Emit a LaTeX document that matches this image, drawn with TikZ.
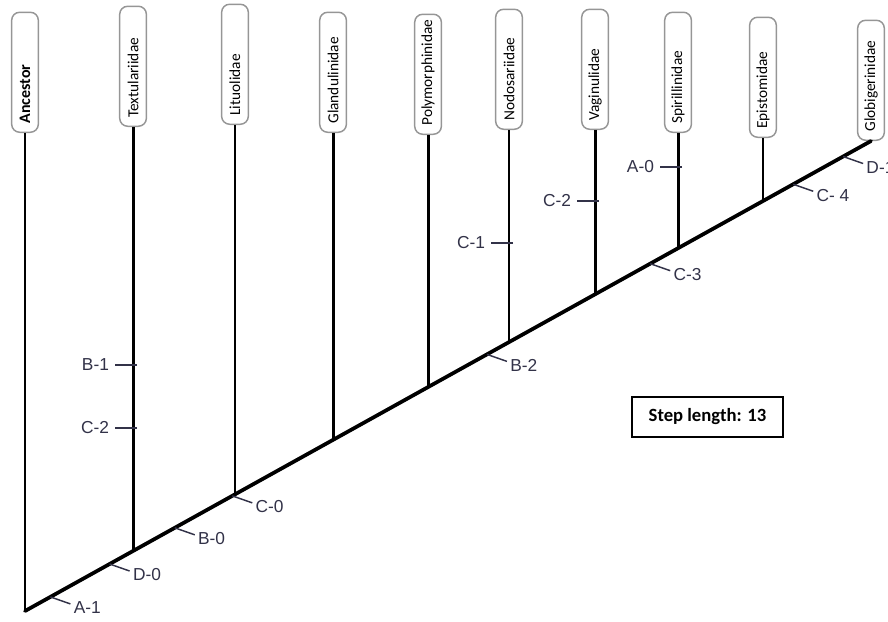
\documentclass[tikz,border=0pt]{standalone}
\usepackage{fontspec}
\setmainfont{Liberation Sans}
\newfontfamily\taxfont{Carlito}
\usetikzlibrary{calc,positioning}

\definecolor{marktext}{RGB}{50,50,72}
\definecolor{boxline}{RGB}{150,150,150}

\tikzset{
  taxon/.style={draw=boxline, line width=1.1pt, rounded corners=6pt, rotate=90, anchor=west,
    minimum height=20pt, inner xsep=6.5pt, text width=77pt, align=left,
    font=\taxfont\fontsize{11.5}{13}\selectfont},
  branch/.style={line width=2.2pt},
  stem/.style={line width=2.8pt, line cap=round},
  tick/.style={line width=1.1pt, draw=marktext},
  marklabel/.style={font=\fontsize{13}{15}\selectfont, text=marktext, inner sep=2pt},
}

\begin{document}
\begin{tikzpicture}[x=0.75pt, y=-0.75pt]
    \useasboundingbox (0,0) rectangle (888,621);
    \clip (0,0) rectangle (888,621);
    % main stem
    \coordinate (root) at (25,611);
    \coordinate (tip) at (871,141);
    \foreach \name/\pos in {tex/0.1277, lit/0.2482, gla/0.3641, pol/0.4764,
                            nod/0.5721, vag/0.6738, spi/0.7719, epi/0.8723}
        \coordinate (j\name) at ($(root)!\pos!(tip)$);
    % taxa
    \node [taxon, font=\taxfont\bfseries\fontsize{12}{14}\selectfont] (anc) at (root |- 0,133) {Ancestor};
    \node [taxon] (tex) at (jtex |- 0,127) {Textulariidae};
    \node [taxon] (lit) at (jlit |- 0,125) {Lituolidae};
    \node [taxon] (gla) at (jgla |- 0,133) {Glandulinidae};
    \node [taxon] (pol) at (jpol |- 0,135) {Polymorphinidae};
    \node [taxon] (nod) at (jnod |- 0,130) {Nodosariidae};
    \node [taxon] (vag) at (jvag |- 0,130) {Vaginulidae};
    \node [taxon] (spi) at (jspi |- 0,133) {Spirillinidae};
    \node [taxon] (epi) at (jepi |- 0,138) {Epistomidae};
    \node [taxon] (glo) at (tip) {Globigerinidae};
    \draw [stem] (root) -- (glo.west);
    \draw [branch] (anc.west) -- (root);
    \foreach \name in {tex, lit, gla, pol, nod, vag, spi, epi}
        \draw [branch] (\name.west) -- (j\name);
    % character changes on the stem
    \foreach \pos/\txt in {0.030/A-1, 0.100/D-0, 0.177/B-0, 0.245/C-0,
                           0.546/B-2, 0.739/C-3, 0.908/C- 4, 0.967/D-1}
        \draw [tick] ($(root)!\pos!(tip)$) -- ++(20,7) node [marklabel, anchor=west, yshift=-3pt] {\txt};
    % character changes on the branches
    \foreach \j/\y/\txt in {jtex/365/B-1, jtex/428/C-2, jnod/243/C-1, jvag/201/C-2, jspi/167/A-0}
        \draw [tick] ([xshift=3pt]\j |- 0,\y) -- ++(-22,0) node [marklabel, anchor=east, xshift=-2pt] {\txt};
    \node [draw, line width=1.2pt, minimum width=113pt, minimum height=30pt,
           font=\taxfont\bfseries\fontsize{14}{16}\selectfont] (steps) at (707.5,417) {Step length: 13};
\end{tikzpicture}
\end{document}
